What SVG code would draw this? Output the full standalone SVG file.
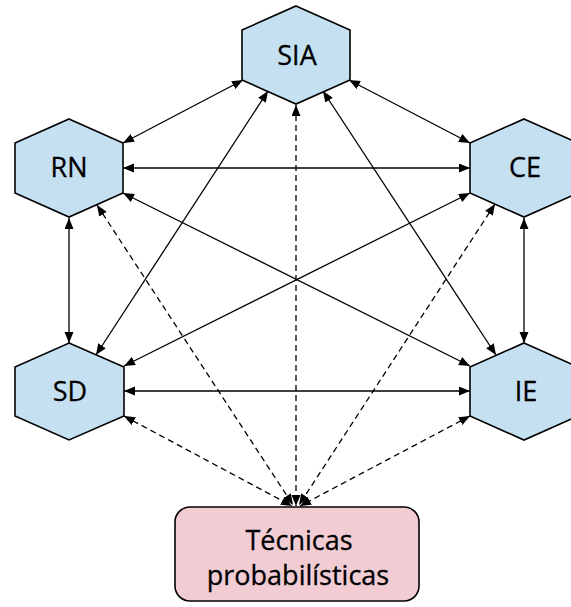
<svg xmlns="http://www.w3.org/2000/svg" width="571" height="607" viewBox="0 0 571 607">
<style>
.hex{fill:#c5e0f1;stroke:#000;stroke-width:1.6}
.box{fill:#f2ccd3;stroke:#000;stroke-width:1.6}
.lbl{font-family:"Open Sans","Liberation Sans",sans-serif;font-size:27px;fill:#000;text-anchor:middle;stroke:#000;stroke-width:0.3}
.c{stroke:#000;stroke-width:1.3;fill:none;marker-start:url(#ah);marker-end:url(#ah)}
.d{stroke-dasharray:6,4}
</style>
<defs>
<marker id="ah" markerUnits="userSpaceOnUse" markerWidth="12" markerHeight="10" refX="11" refY="4.5" orient="auto-start-reverse" viewBox="0 0 12 10">
<path d="M0,0 L11,4.5 L0,9 z" fill="#000"/>
</marker>
</defs>
<rect width="571" height="607" fill="#fff"/>
<g id="connectors">
<line class="c" x1="243" y1="80" x2="123" y2="143"/>
<line class="c" x1="349" y1="80" x2="470" y2="143"/>
<line class="c" x1="123" y1="168" x2="470" y2="168"/>
<line class="c" x1="69" y1="218" x2="69" y2="343"/>
<line class="c" x1="524" y1="218" x2="524" y2="343"/>
<line class="c" x1="124" y1="391" x2="470" y2="391"/>
<line class="c" x1="268" y1="91" x2="96" y2="355"/>
<line class="c" x1="323" y1="91" x2="496" y2="355"/>
<line class="c" x1="123" y1="193" x2="470" y2="366"/>
<line class="c" x1="470" y1="193" x2="124" y2="366"/>
<line class="c d" x1="296" y1="105" x2="296" y2="506"/>
<line class="c d" x1="97" y1="205" x2="293" y2="505"/>
<line class="c d" x1="495" y1="204" x2="299" y2="505"/>
<line class="c d" x1="124" y1="416" x2="292" y2="506"/>
<line class="c d" x1="470" y1="416" x2="300" y2="506"/>
</g>
<g id="SIA">
<polygon class="hex" points="296,6 350,30 350,80 296,104 242,80 242,30"/>
<text class="lbl" x="297" y="65">SIA</text>
</g>
<g id="RN">
<polygon class="hex" points="69,119 123,143 123,193 69,217 15,193 15,143"/>
<text class="lbl" x="69" y="177">RN</text>
</g>
<g id="CE">
<polygon class="hex" points="524,119 578,143 578,193 524,217 470,193 470,143"/>
<text class="lbl" x="525" y="177">CE</text>
</g>
<g id="SD">
<polygon class="hex" points="69,343 124,367 124,416 69,440 15,416 15,367"/>
<text class="lbl" x="70" y="401">SD</text>
</g>
<g id="IE">
<polygon class="hex" points="524,343 578,367 578,416 524,440 470,416 470,367"/>
<text class="lbl" x="526" y="401">IE</text>
</g>
<g id="Tecnicas">
<rect class="box" x="175" y="507" width="244" height="94" rx="15" ry="15"/>
<text class="lbl" x="299" y="550">Técnicas</text>
<text class="lbl" x="298" y="585">probabilísticas</text>
</g>
</svg>
